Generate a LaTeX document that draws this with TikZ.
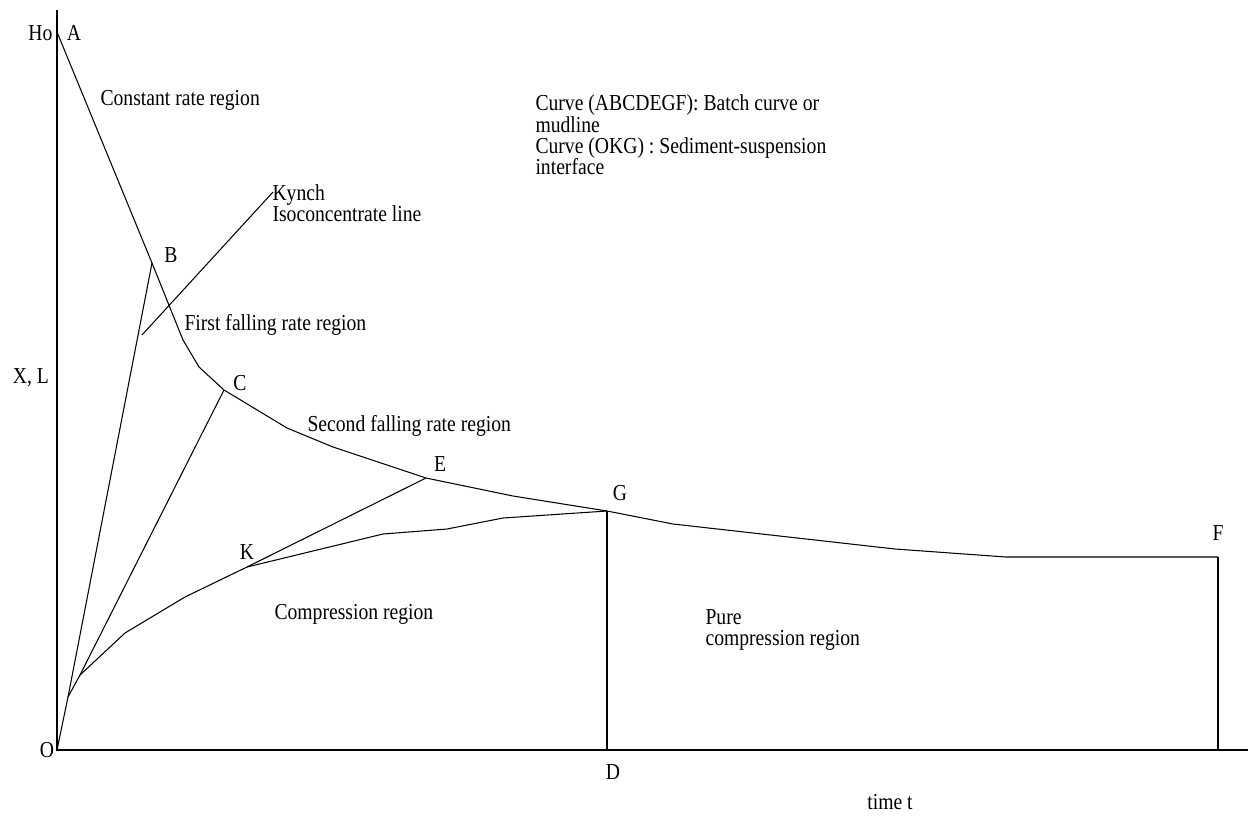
\documentclass[tikz,border=0pt]{standalone}
\usepackage{fontspec}
\setmainfont{Liberation Serif}[FakeStretch=0.86]
\usepackage{tikz}
\usetikzlibrary{positioning}
\newcommand{\lw}{0.6pt}
\newcommand{\lblsize}{\fontsize{13}{12.2}\selectfont}
\tikzset{lbl/.style = {inner sep = 0pt, font = \lblsize, align = left}}
\begin{document}
\begin{tikzpicture}[x=0.02cm,y=-0.02cm,line width=\lw]
        \useasboundingbox (0,0) rectangle (1250,815);
        %\draw[help lines,step=50] (0,0) grid (1250,815);
        % axes
        \coordinate (O) at (57,750);
        \coordinate (top) at (57,10);
        \coordinate (right) at (1248,750);
        \draw (top) -- (O) -- (right);
        % batch curve (mudline)
        \coordinate (A) at (57,32);
        \coordinate (B) at (152,263);
        \coordinate (m1) at (183,340);
        \coordinate (m2) at (199,367);
        \coordinate (C) at (224,390);
        \coordinate (m3) at (287,428);
        \coordinate (m4) at (333,447);
        \coordinate (E) at (426,478);
        \coordinate (m5) at (513,496);
        \coordinate (G) at (607,511);
        \coordinate (m6) at (673,524);
        \coordinate (m7) at (895,549);
        \coordinate (m8) at (1006,557);
        \coordinate (F) at (1218,557);
        \draw (A) -- (B) -- (m1) -- (m2) -- (C) -- (m3) -- (m4) -- (E) -- (m5) -- (G)
              -- (m6) -- (m7) -- (m8) -- (F);
        % sediment-suspension interface
        \coordinate (s1) at (68,697);
        \coordinate (s2) at (80,675);
        \coordinate (s3) at (125,633);
        \coordinate (s4) at (185,597);
        \coordinate (K) at (247,567);
        \coordinate (s5) at (383,534);
        \coordinate (s6) at (447,529);
        \coordinate (s7) at (503,518);
        \draw (O) -- (s1) -- (s2) -- (s3) -- (s4) -- (K) -- (s5) -- (s6) -- (s7) -- (G);
        % rays from O
        \draw (s1) -- (B);
        \draw (s2) -- (C);
        \draw (K) -- (E);
        % Kynch line
        \coordinate (kyn0) at (142,335);
        \coordinate (kyn1) at (273,192);
        \draw (kyn0) -- (kyn1);
        % verticals
        \coordinate (D) at (607,750);
        \coordinate (Fb) at (1218,750);
        \draw (G) -- (D);
        \draw (F) -- (Fb);
        % point labels
        \node[lbl,anchor=east] (lHo) at (53,33) {Ho};
        \node[lbl] (lA) at (74,33) {A};
        \node[lbl] (lB) at (171,255) {B};
        \node[lbl] (lC) at (240,383) {C};
        \node[lbl] (lE) at (440,464) {E};
        \node[lbl] (lG) at (620,493) {G};
        \node[lbl] (lK) at (247,552) {K};
        \node[lbl] (lF) at (1218,533) {F};
        \node[lbl] (lO) at (47,750) {O};
        \node[lbl] (lD) at (613,772) {D};
        \node[lbl] (lXL) at (31,378) {X, L};
        \node[lbl] (ltime) at (890,802) {time t};
        % region labels
        \node[lbl,anchor=west] (rconst) at (100,100) {Constant rate region};
        \node[lbl,anchor=west] (rkynch) at (272,203) {Kynch\\Isoconcentrate line};
        \node[lbl,anchor=west] (rfirst) at (184,325) {First falling rate region};
        \node[lbl,anchor=west] (rsecond) at (307,426) {Second falling rate region};
        \node[lbl,anchor=west] (rcomp) at (274,614) {Compression region};
        \node[lbl,anchor=west] (rpure) at (705,630) {Pure\\compression region};
        \node[lbl,anchor=west] (rnote) at (535,135) {Curve (ABCDEGF): Batch curve or\\mudline\\Curve (OKG) : Sediment-suspension\\interface};
\end{tikzpicture}
\end{document}
